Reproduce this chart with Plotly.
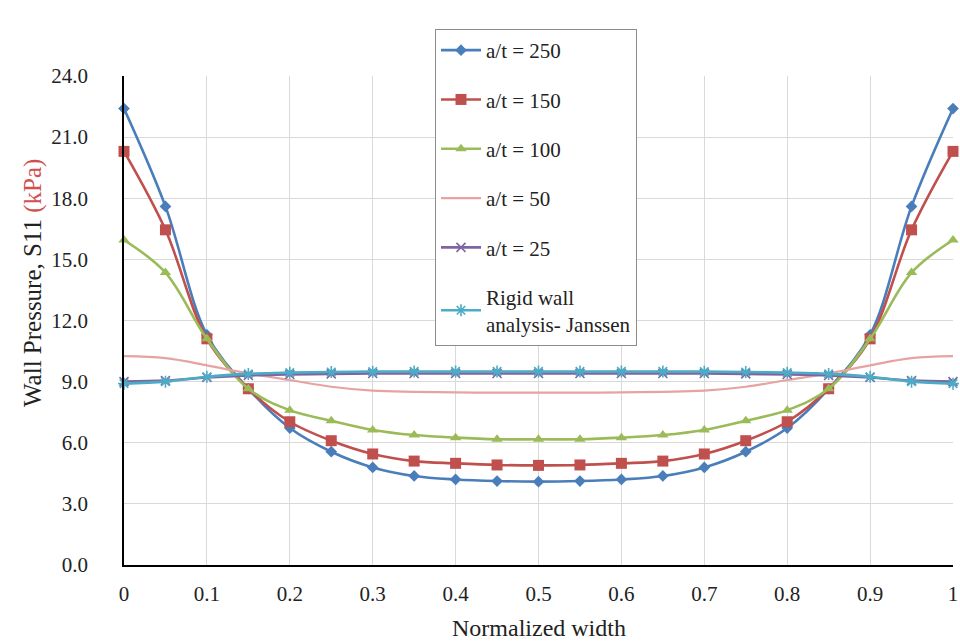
import plotly.graph_objects as go

x = [0, 0.05, 0.1, 0.15, 0.2, 0.25, 0.3, 0.35, 0.4, 0.45, 0.5,
     0.55, 0.6, 0.65, 0.7, 0.75, 0.8, 0.85, 0.9, 0.95, 1.0]

at250 = [22.4, 17.6, 11.3, 8.65, 6.72, 5.56, 4.79, 4.37, 4.2, 4.12, 4.09,
         4.12, 4.2, 4.37, 4.79, 5.56, 6.72, 8.65, 11.3, 17.6, 22.4]
at150 = [20.3, 16.45, 11.1, 8.65, 7.03, 6.1, 5.45, 5.1, 4.99, 4.91, 4.89,
         4.91, 4.99, 5.1, 5.45, 6.1, 7.03, 8.65, 11.1, 16.45, 20.3]
at100 = [15.95, 14.35, 11.1, 8.65, 7.6, 7.08, 6.63, 6.38, 6.25, 6.17, 6.17,
         6.17, 6.25, 6.38, 6.63, 7.08, 7.6, 8.65, 11.1, 14.35, 15.95]
at50 = [10.25, 10.15, 9.8, 9.4, 9.08, 8.75, 8.56, 8.5, 8.47, 8.46, 8.46,
        8.46, 8.47, 8.5, 8.56, 8.75, 9.08, 9.4, 9.8, 10.15, 10.25]
at25 = [9.0, 9.05, 9.2, 9.3, 9.35, 9.38, 9.4, 9.4, 9.4, 9.4, 9.4,
        9.4, 9.4, 9.4, 9.4, 9.38, 9.35, 9.3, 9.2, 9.05, 9.0]
rigid = [8.9, 9.0, 9.24, 9.38, 9.44, 9.47, 9.49, 9.5, 9.5, 9.5, 9.5,
         9.5, 9.5, 9.5, 9.49, 9.47, 9.44, 9.38, 9.24, 9.0, 8.9]

names = ["a/t = 250", "a/t = 150", "a/t = 100", "a/t = 50", "a/t = 25",
         "Rigid wall<br>analysis- Janssen"]
series = [at250, at150, at100, at50, at25, rigid]
colors = ["#4A7EBB", "#C0504D", "#9BBB59", "#E6A3A1", "#7F64A2", "#4BACC6"]
symbols = ["diamond", "square", "triangle-up", None, "x-thin-open", "asterisk-open"]
msizes = [9, 11, 10, 0, 9, 10]

xtickvals = [0, 0.1, 0.2, 0.3, 0.4, 0.5, 0.6, 0.7, 0.8, 0.9, 1]
xticktext = ["0", "0.1", "0.2", "0.3", "0.4", "0.5", "0.6", "0.7", "0.8", "0.9", "1"]
ytickvals = [0, 3, 6, 9, 12, 15, 18, 21, 24]
yticktext = ["0.0", "3.0", "6.0", "9.0", "12.0", "15.0", "18.0", "21.0", "24.0"]

FONT = "Liberation Serif, Times New Roman, serif"
L, R, T, B = 124, 7, 76, 78
PW = 960 - L - R
PH = 643 - T - B

fig = go.Figure()
for i, (nm, ys, c, s, ms) in enumerate(zip(names, series, colors, symbols, msizes)):
    if s is None:
        fig.add_trace(go.Scatter(x=x, y=ys, name=nm, mode="lines",
                                 line=dict(color=c, width=2.2, shape="spline"),
                                 legendgroup=str(i), cliponaxis=False))
    else:
        mk = dict(symbol=s, size=ms, color=c)
        if s.endswith("open"):
            mk["line"] = dict(color=c, width=1.6)
        fig.add_trace(go.Scatter(x=x, y=ys, name=nm, mode="lines+markers",
                                 line=dict(color=c, width=2.6, shape="spline"),
                                 marker=mk, legendgroup=str(i), cliponaxis=False))

fig.update_layout(
    width=960, height=643,
    margin=dict(l=L, r=R, t=T, b=B, autoexpand=False),
    paper_bgcolor="white", plot_bgcolor="white",
    font=dict(family=FONT, size=21, color="#222222"),
    showlegend=True,
    legend=dict(x=(435 - L) / PW, y=(643 - B - 29) / PH, xanchor="left", yanchor="top",
                bgcolor="white", bordercolor="#8C8C8C", borderwidth=1,
                font=dict(family=FONT, size=21, color="#222222"),
                tracegroupgap=19, itemwidth=40, traceorder="grouped",
                maxheight=500),
    xaxis=dict(range=[0, 1], tickvals=xtickvals, ticktext=xticktext,
               showgrid=True, gridcolor="#D9D9D9", gridwidth=1,
               showline=True, linecolor="black", linewidth=1.5, zeroline=False,
               ticks="", ticklabelstandoff=9, ticklabeloverflow="allow",
               automargin=False,
               tickfont=dict(family=FONT, size=21, color="#222222")),
    yaxis=dict(range=[0, 24], tickvals=ytickvals, ticktext=yticktext,
               showgrid=True, gridcolor="#D9D9D9", gridwidth=1,
               showline=True, linecolor="black", linewidth=1.5, zeroline=False,
               ticks="", ticklabelstandoff=30, automargin=False,
               tickfont=dict(family=FONT, size=21, color="#222222")),
)

fig.add_annotation(
    text="Wall Pressure, S11 <span style='color:#D0504D'>(kPa)</span>",
    textangle=-90, xref="paper", yref="paper",
    x=(33 - L) / PW, y=(643 - B - 283) / PH, xanchor="center", yanchor="middle",
    showarrow=False, font=dict(family=FONT, size=25, color="#222222"))

fig.add_annotation(
    text="Normalized width", xref="paper", yref="paper",
    x=(539 - L) / PW, y=(643 - B - 628) / PH, xanchor="center", yanchor="middle",
    showarrow=False, font=dict(family=FONT, size=24, color="#222222"))

fig.write_html("out.html")
